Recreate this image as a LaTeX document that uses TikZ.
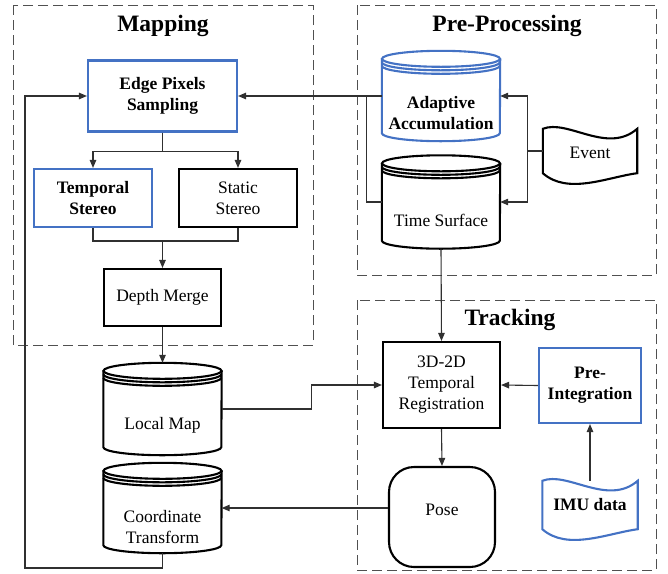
\documentclass[tikz,border=0pt]{standalone}
\usepackage{fontspec}
\setmainfont{Liberation Serif}
\usepackage{tikz}
\usetikzlibrary{arrows.meta,positioning,calc}
\definecolor{blueline}{HTML}{4472C4}
\definecolor{wire}{HTML}{303030}
\definecolor{dashgray}{HTML}{505050}
\newcommand{\nodefont}{\fontsize{17.5}{21}\selectfont}
\newcommand{\grpfont}{\fontsize{23.5}{28}\selectfont}
% cylinder outline round an empty node
\newcommand{\drawdisk}[2]{%
  \draw[#2] ([yshift=-8pt]#1.north) ellipse [x radius=59pt, y radius=8pt];
  \draw[#2] ([yshift=-11.5pt]#1.north west) arc [start angle=180, end angle=360, x radius=59pt, y radius=8pt];
  \draw[#2] ([yshift=-15pt]#1.north west) arc [start angle=180, end angle=360, x radius=59pt, y radius=8pt];
  \draw[#2] ([yshift=-8pt]#1.north west) -- ([yshift=8pt]#1.south west)
    arc [start angle=180, end angle=360, x radius=59pt, y radius=8pt]
    -- ([yshift=-8pt]#1.north east);
}
% wavy tape outline round an empty node
\newcommand{\drawtape}[2]{%
  \draw[#2] (#1.north west) .. controls +(25pt,10pt) and +(-30pt,-26pt) .. (#1.north east)
    -- (#1.south east) .. controls +(-30pt,-4pt) and +(25pt,-22pt) .. (#1.south west) -- cycle;
}
\tikzset{
  blk/.style={draw, line width=2.1pt, align=center, font=\nodefont, inner sep=2pt},
  blu/.style={blk, draw=blueline, font=\nodefont\bfseries},
  disk/.style={minimum width=118pt, inner sep=0pt},
  tape/.style={inner sep=0pt},
  dtxt/.style={align=center, font=\nodefont, inner sep=0pt},
  arr/.style={-{Triangle[length=8pt,width=6.5pt]}, line width=1.1pt, draw=wire},
  wire/.style={line width=1.1pt, draw=wire},
  grp/.style={dash pattern=on 10pt off 5pt, line width=1pt, draw=dashgray},
  ttl/.style={font=\grpfont\bfseries}
}
\begin{document}
\begin{tikzpicture}[x=1pt,y=-1pt]
\useasboundingbox (0,0) rectangle (668,573);
% groups
\draw[grp] (13,5) rectangle (313,345);
\draw[grp] (357,5) rectangle (656,275);
\draw[grp] (357,300) rectangle (656,570);
\node[ttl] (tmap) at (163,26) {Mapping};
\node[ttl] (tpre) at (507,26) {Pre-Processing};
\node[ttl] (ttrk) at (510,320) {Tracking};
% mapping
\node[blu, minimum width=149pt, minimum height=71pt] (edge) at (162.5,96) {Edge Pixels\\Sampling};
\node[blu, minimum width=118pt, minimum height=58pt] (tstereo) at (93,198) {Temporal\\Stereo};
\node[blk, minimum width=118pt, minimum height=58pt] (sstereo) at (238,198) {Static\\Stereo};
\node[blk, minimum width=117pt, minimum height=57pt] (dmerge) at (162.5,297.5) {Depth Merge};
\node[disk, minimum height=92pt] (lmap) at (162.5,409) {};
\drawdisk{lmap}{line width=2.1pt}
\node[dtxt] (lmap-t) at ([yshift=-16pt]lmap.center) {Local Map};
\node[disk, minimum height=90pt] (ctrans) at (162.5,508) {};
\drawdisk{ctrans}{line width=2.1pt}
\node[dtxt] (ctrans-t) at ([yshift=-19pt]ctrans.center) {Coordinate\\Transform};
% pre-processing
\node[disk, minimum height=90pt] (adapt) at (441,96) {};
\drawdisk{adapt}{line width=2.1pt, draw=blueline}
\node[dtxt, font=\nodefont\bfseries] (adapt-t) at ([yshift=-17pt]adapt.center) {Adaptive\\Accumulation};
\node[disk, minimum height=93pt] (tsurf) at (441,202) {};
\drawdisk{tsurf}{line width=2.1pt}
\node[dtxt] (tsurf-t) at ([yshift=-18pt]tsurf.center) {Time Surface};
\node[tape, minimum width=94pt, minimum height=44pt] (event) at (590,151) {};
\drawtape{event}{line width=2.1pt}
\node[dtxt] (event-t) at ([yshift=-2pt]event.center) {Event};
% tracking
\node[blk, minimum width=117pt, minimum height=86pt] (reg) at (441.5,385) {3D-2D\\Temporal\\Registration};
\node[blu, minimum width=102pt, minimum height=75pt] (preint) at (590,385.5) {Pre-\\Integration};
\node[tape, minimum width=95pt, minimum height=48pt] (imu) at (590,505) {};
\drawtape{imu}{line width=2.1pt, draw=blueline}
\node[dtxt, font=\nodefont\bfseries] (imu-t) at (imu.center) {IMU data};
\node[blk, rounded corners=25pt, minimum width=106pt, minimum height=100pt,
      text height=12pt, text depth=16pt] (pose) at (442,517) {Pose};
% connectors
\coordinate (mj) at (162.5,241);
\coordinate (fb) at (25,568);
\draw[arr] (edge.south) -- ++(0,19) -| (tstereo.north);
\draw[arr] (edge.south) -- ++(0,19) -| (sstereo.north);
\draw[wire] (tstereo.south) |- (mj) -| (sstereo.south);
\draw[arr] (mj) -- (dmerge.north);
\draw[arr] (dmerge.south) -- (lmap.north);
\draw[arr] (lmap.east) -- ++(90,0) |- (reg.west);
\draw[arr] (adapt.west) -- (edge.east);
\draw[wire] (tsurf.west) -| ([xshift=-15pt]adapt.west);
\draw[arr] (event.west) -- ++(-15,0) |- (adapt.east);
\draw[arr] (event.west) -- ++(-15,0) |- (tsurf.east);
\draw[arr] (tsurf.south) -- (reg.north);
\draw[arr] (preint.west) -- (reg.east);
\draw[arr] (imu.north) -- (preint.south);
\draw[arr] (reg.south) -- (pose.north);
\draw[arr] (pose.west |- ctrans.east) -- (ctrans.east);
\draw[arr] (ctrans.south) |- (fb) |- (edge.west);
\end{tikzpicture}
\end{document}
